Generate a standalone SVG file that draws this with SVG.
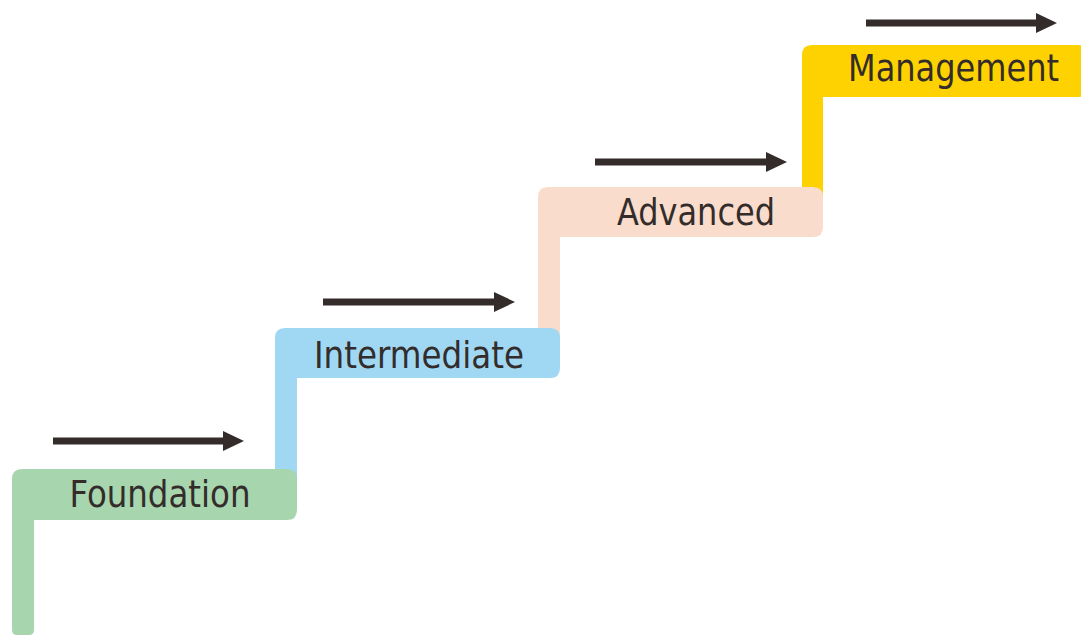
<svg xmlns="http://www.w3.org/2000/svg" width="1081" height="635" viewBox="0 0 1081 635">
  <style>
    .lbl { font-family: "DejaVu Sans Condensed", "DejaVu Sans", sans-serif; font-stretch: condensed; font-size: 38px; fill: #332c2b; text-anchor: middle; }
    .arr { stroke: #332c2b; stroke-width: 7; fill: none; marker-end: url(#head); }
  </style>
  <defs>
    <marker id="head" markerUnits="userSpaceOnUse" markerWidth="22" markerHeight="22" refX="1" refY="10" orient="auto" overflow="visible">
      <path d="M0,0 L21,10 L0,20 Z" fill="#332c2b"/>
    </marker>
  </defs>
  <rect width="1081" height="635" fill="#ffffff"/>

  <g id="step-management">
    <path d="M812,45 H1078 Q1088,45 1088,55 V87 Q1088,97 1078,97 H823 V200 H802 V55 Q802,45 812,45 Z" fill="#fdd200"/>
    <text class="lbl" x="953.5" y="81" textLength="211" lengthAdjust="spacingAndGlyphs">Management</text>
  </g>

  <g id="step-advanced">
    <path d="M548,187 H813 Q823,187 823,197 V227 Q823,237 813,237 H560 V345 H538 V197 Q538,187 548,187 Z" fill="#f9dccc"/>
    <text class="lbl" x="696" y="225" textLength="158" lengthAdjust="spacingAndGlyphs">Advanced</text>
  </g>

  <g id="step-intermediate">
    <path d="M285,328 H550 Q560,328 560,338 V368 Q560,378 550,378 H297 V485 H275 V338 Q275,328 285,328 Z" fill="#a0d8f4"/>
    <text class="lbl" x="419" y="368" textLength="210" lengthAdjust="spacingAndGlyphs">Intermediate</text>
  </g>

  <g id="step-foundation">
    <path d="M22,469 H287 Q297,469 297,479 V510 Q297,520 287,520 H34 V630 Q34,635 29,635 H17 Q12,635 12,630 V479 Q12,469 22,469 Z" fill="#a6d5ae"/>
    <text class="lbl" x="160" y="507" textLength="181" lengthAdjust="spacingAndGlyphs">Foundation</text>
  </g>

  <g id="connectors">
    <line class="arr" x1="53" y1="441" x2="224" y2="441"/>
    <line class="arr" x1="323" y1="302" x2="495" y2="302"/>
    <line class="arr" x1="595" y1="162" x2="767" y2="162"/>
    <line class="arr" x1="866" y1="23" x2="1037" y2="23"/>
  </g>
</svg>
